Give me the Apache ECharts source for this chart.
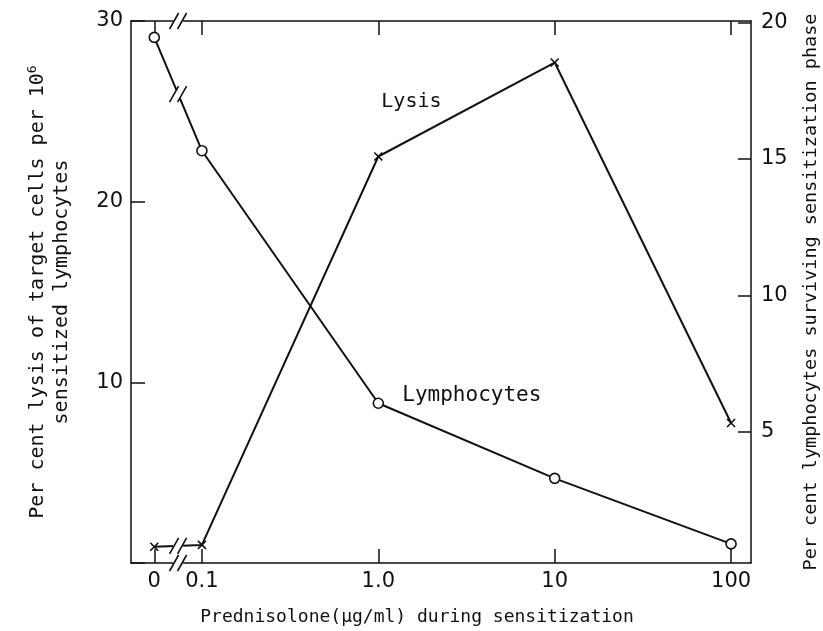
<!DOCTYPE html>
<html>
<head>
<meta charset="utf-8">
<script src="https://cdn.jsdelivr.net/npm/echarts@6/dist/echarts.min.js"></script>
<style>
  html, body { margin: 0; padding: 0; background: #fff; }
  #main { width: 823px; height: 631px; }
</style>
</head>
<body>
<div id="main"></div>
<script>
// prednisolone concentrations (ug/ml) and their tick labels
const concentrations = [0, 0.1, 1, 10, 100];
const tickLabels = ['0', '0.1', '1.0', '10', '100'];
// per cent lysis (left axis)
const lysis = [0.9, 1.0, 22.5, 27.7, 7.75];
// per cent lymphocytes surviving (right axis)
const lymphocytes = [19.45, 15.3, 6.05, 3.3, 0.9];
// right axis tick values
const rightTicks = [5, 10, 15, 20];

// log scale, with 0 put just left of the axis break
const ZERO_POS = -1.27;
const xOf = c => (c === 0 ? ZERO_POS : Math.log10(c));
const xTicks = concentrations.map(xOf);

const FONT = 'DejaVu Sans';
const MONO = 'DejaVu Sans Mono';
const INK = '#111';

const lysisData = concentrations.map((c, i) => [xOf(c), lysis[i]]);
const lymphData = concentrations.map((c, i) => [xOf(c), lymphocytes[i]]);

const chart = echarts.init(document.getElementById('main'));

const lineStyle = { color: INK, width: 1.5 };

const xBase = {
  type: 'value',
  min: -1.402,
  max: 2.113,
  splitLine: { show: false },
  axisLine: { show: true, onZero: false, lineStyle: lineStyle },
  axisTick: { show: true, inside: true, length: 14, customValues: xTicks, lineStyle: lineStyle }
};

const option = {
  backgroundColor: '#fff',
  animation: false,
  grid: { left: 131, right: 72, top: 21, bottom: 68, containLabel: false, outerBoundsMode: 'none' },
  xAxis: [
    Object.assign({}, xBase, {
      position: 'bottom',
      name: 'Prednisolone(\u03bcg/ml) during sensitization',
      nameLocation: 'middle',
      nameGap: 45,
      nameTextStyle: { fontFamily: MONO, fontSize: 18, color: INK, padding: [0, 48, 0, 0] },
      axisLabel: {
        show: true,
        customValues: xTicks,
        margin: 8,
        fontFamily: FONT,
        fontSize: 21,
        color: INK,
        formatter: v => {
          const i = xTicks.findIndex(t => Math.abs(t - v) < 1e-6);
          return i >= 0 ? tickLabels[i] : '';
        }
      }
    }),
    Object.assign({}, xBase, {
      position: 'top',
      axisLabel: { show: false }
    })
  ],
  yAxis: [
    {
      type: 'value',
      position: 'left',
      min: 0,
      max: 30,
      interval: 10,
      splitLine: { show: false },
      axisLine: { show: true, onZero: false, lineStyle: lineStyle },
      axisTick: { show: true, inside: true, length: 14, lineStyle: lineStyle },
      axisLabel: {
        margin: 8, fontFamily: FONT, fontSize: 21, color: INK,
        formatter: v => (v === 0 ? '' : String(v))
      },
      name: 'Per cent lysis of target cells per 10{sup|6}\nsensitized lymphocytes',
      nameLocation: 'middle',
      nameRotate: 90,
      nameGap: 57,
      nameTextStyle: {
        fontFamily: MONO, fontSize: 20, color: INK, lineHeight: 24,
        rich: { sup: { fontFamily: MONO, fontSize: 13, color: INK, verticalAlign: 'top', padding: [0, 0, 10, 0] } }
      }
    },
    {
      type: 'value',
      position: 'right',
      min: 0.2,
      max: 20.05,
      splitLine: { show: false },
      axisLine: { show: true, onZero: false, lineStyle: lineStyle },
      axisTick: { show: true, inside: true, length: 13, customValues: rightTicks, lineStyle: lineStyle },
      axisLabel: {
        customValues: rightTicks,
        margin: 10, fontFamily: FONT, fontSize: 21, color: INK
      },
      name: 'Per cent lymphocytes surviving sensitization phase',
      nameLocation: 'middle',
      nameRotate: 90,
      nameGap: 51,
      nameTextStyle: { fontFamily: MONO, fontSize: 18.5, color: INK }
    }
  ],
  series: [
    {
      name: 'Lysis',
      type: 'line',
      xAxisIndex: 0,
      yAxisIndex: 0,
      data: lysisData,
      symbol: 'path://M0,0L10,10M10,0L0,10',
      symbolSize: 8,
      showAllSymbol: true,
      lineStyle: { color: INK, width: 2 },
      itemStyle: { color: 'rgba(0,0,0,0)', borderColor: INK, borderWidth: 1.6 },
      z: 3
    },
    {
      name: 'Lymphocytes',
      type: 'line',
      xAxisIndex: 0,
      yAxisIndex: 1,
      data: lymphData,
      symbol: 'circle',
      symbolSize: 10,
      showAllSymbol: true,
      lineStyle: { color: INK, width: 2 },
      itemStyle: { color: '#fff', borderColor: INK, borderWidth: 1.6 },
      z: 3
    }
  ]
};

chart.setOption(option);

// break marks "//" and the two line labels, placed from the chart's own scales
function slashes(cx, cy) {
  const out = [{ type: 'rect', shape: { x: cx - 5, y: cy - 4, width: 10, height: 8 }, style: { fill: '#fff' }, z: 10 }];
  [-4, 4].forEach(d => {
    out.push({
      type: 'line',
      shape: { x1: cx + d - 4.5, y1: cy + 8, x2: cx + d + 4.5, y2: cy - 8 },
      style: { stroke: INK, lineWidth: 1.6 },
      z: 11
    });
  });
  return out;
}

const breakX = (xOf(0) + xOf(0.1)) / 2;
const pBottom = chart.convertToPixel({ xAxisIndex: 0, yAxisIndex: 0 }, [breakX, 0]);
const pTop = chart.convertToPixel({ xAxisIndex: 0, yAxisIndex: 0 }, [breakX, 30]);
const pLys = chart.convertToPixel({ xAxisIndex: 0, yAxisIndex: 0 }, [breakX, (lysis[0] + lysis[1]) / 2]);
const a = chart.convertToPixel({ xAxisIndex: 0, yAxisIndex: 1 }, lymphData[0]);
const b = chart.convertToPixel({ xAxisIndex: 0, yAxisIndex: 1 }, lymphData[1]);
const pLym = [(a[0] + b[0]) / 2, (a[1] + b[1]) / 2];

const lysAnchor = chart.convertToPixel({ xAxisIndex: 0, yAxisIndex: 0 }, lysisData[2]);
const lymAnchor = chart.convertToPixel({ xAxisIndex: 0, yAxisIndex: 1 }, lymphData[2]);

chart.setOption({
  graphic: [].concat(
    slashes(pBottom[0], pBottom[1]),
    slashes(pTop[0], pTop[1]),
    slashes(pLys[0], pLys[1]),
    slashes(pLym[0], pLym[1]),
    [
      { type: 'text', x: lysAnchor[0] + 3, y: lysAnchor[1] - 65,
        style: { text: 'Lysis', font: '20px "DejaVu Sans Mono"', fill: INK } },
      { type: 'text', x: lymAnchor[0] + 24, y: lymAnchor[1] - 18,
        style: { text: 'Lymphocytes', font: '21px "DejaVu Sans Mono"', fill: INK } }
    ]
  )
});
</script>
</body>
</html>
